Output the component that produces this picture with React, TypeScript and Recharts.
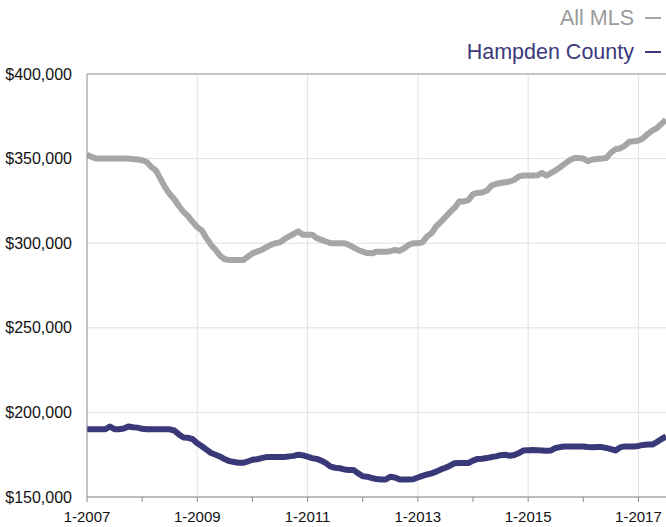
import React from "react";
import {
  LineChart,
  Line,
  XAxis,
  YAxis,
  CartesianGrid,
  ReferenceLine,
} from "recharts";

// Monthly median prices (dollars, thousands), starting January 2007
const allMls = [
  352.3, 351, 350, 350, 350, 350, 350, 350, 350, 350, 349.7, 349.5,
  349, 348, 345, 343, 338, 333, 329, 326, 322, 318.5, 316, 312.5,
  309.5, 307.5, 303, 299, 296, 292.5, 290.5, 290, 290, 290, 290, 292,
  294, 295, 296, 297.5, 299, 300, 300.5, 302.5, 304, 305.5, 307, 305,
  305, 305, 303, 302, 301, 300, 300, 300, 300, 299, 297.5, 296,
  295, 294.2, 294, 295, 295, 295, 295.3, 296, 295.5, 297, 299, 300,
  300, 300.5, 304, 306, 310, 312.5, 315.5, 318.5, 321, 324.7, 324.7, 325.5,
  329, 329.7, 330, 331, 334, 335, 335.6, 336, 336.5, 337.5, 339.5, 340,
  340, 340, 340.1, 341.5, 340, 341.5, 343, 345, 347, 349, 350.3, 350.3,
  350, 348.5, 349.5, 349.8, 350, 350.3, 353.5, 355.5, 356, 357.5, 360, 360.3,
  360.6, 362, 364.5, 366.5, 368, 370.5, 373,
];

const hampden = [
  190, 190, 190, 190, 190, 191.7, 190, 190, 190.5, 191.7, 191.2, 191,
  190.3, 190, 190, 190, 190, 190, 190, 189.3, 187, 185.2, 185, 184.2,
  181.8, 180, 178, 176, 175, 173.8, 172.3, 171.2, 170.7, 170.2, 170.2, 171,
  172, 172.3, 173, 173.6, 173.6, 173.6, 173.7, 173.7, 174, 174.3, 175, 174.6,
  173.8, 173, 172.5, 171.5, 170, 168, 167.3, 167, 166.3, 166, 166, 164,
  162.2, 162, 161.2, 160.6, 160.4, 160.3, 162, 161.5, 160.4, 160.4, 160.4, 160.5,
  161.5, 162.5, 163.3, 164, 165, 166.3, 167.3, 168.5, 170, 170.1, 170.1, 170.1,
  171.5, 172.5, 172.6, 173, 173.6, 174, 174.7, 175, 174.4, 174.8, 176, 177.5,
  177.7, 177.8, 177.7, 177.5, 177.3, 177.5, 179, 179.5, 179.9, 179.9, 179.9, 179.9,
  179.9, 179.5, 179.4, 179.5, 179.5, 179, 178.3, 177.5, 179.3, 179.9, 179.9, 179.9,
  180.2, 180.8, 181, 181, 182.5, 184.2, 185.8,
];

const xTickLabels = ["1-2007", "1-2009", "1-2011", "1-2013", "1-2015", "1-2017"];
const yTicks = [150000, 200000, 250000, 300000, 350000, 400000];
const seriesNames = ["All MLS", "Hampden County"];

const GRAY = "#a6a6a6";
const GRAY_TEXT = "#9a9a9a";
const PURPLE = "#393878";
const PURPLE_TEXT = "#3b3a7c";

const data = allMls.map((v, i) => ({
  m: i,
  all: v * 1000,
  hamp: hampden[i] * 1000,
}));

const yearTicks = Array.from({ length: 11 }, (_, i) => i * 12);
const majorTicks = xTickLabels.map((_, i) => i * 24);

const fmtMoney = (v: number) => "$" + v.toLocaleString("en-US");

const FONT = "'Liberation Sans', Arial, sans-serif";

const LegendBox = () => (
  <div
    style={{
      position: "absolute",
      top: 1,
      right: 5,
      fontFamily: FONT,
      fontSize: 21.5,
      textAlign: "right",
      lineHeight: "34px",
    }}
  >
    {[
      { name: seriesNames[0], color: GRAY_TEXT, line: GRAY },
      { name: seriesNames[1], color: PURPLE_TEXT, line: PURPLE },
    ].map((s) => (
      <div key={s.name} style={{ color: s.color, whiteSpace: "nowrap" }}>
        {s.name}
        <span
          style={{
            display: "inline-block",
            width: 16,
            height: 2,
            background: s.line,
            marginLeft: 11,
            verticalAlign: "middle",
            position: "relative",
            top: -1,
          }}
        />
      </div>
    ))}
  </div>
);

export default function App() {
  return (
    <div style={{ position: "absolute", left: 0, top: 0, width: 666, height: 527, background: "#fff" }}>
      <LineChart
        width={666}
        height={527}
        data={data}
        margin={{ top: 74, right: 0, bottom: 0, left: 7 }}
      >
        <CartesianGrid vertical={false} stroke="#e2e2e2" strokeWidth={1} />
        {majorTicks.slice(1).map((t) => (
          <ReferenceLine key={t} x={t} stroke="#e2e2e2" strokeWidth={1} />
        ))}
        <ReferenceLine y={400000} stroke="#999" strokeWidth={1} />
        <XAxis
          type="number"
          dataKey="m"
          domain={[0, 126]}
          ticks={yearTicks}
          interval={0}
          allowDataOverflow
          height={30}
          stroke="#888"
          tickSize={5}
          tickMargin={9}
          tick={{ fill: "#111", fontSize: 15, fontFamily: FONT }}
          tickFormatter={(v: number) => (v % 24 === 0 ? xTickLabels[v / 24] : "")}
        />
        <YAxis
          domain={[150000, 400000]}
          ticks={yTicks}
          interval={0}
          width={80}
          stroke="#888"
          tickLine={false}
          tickSize={0}
          tickMargin={15}
          tick={{ fill: "#111", fontSize: 16, fontFamily: FONT }}
          tickFormatter={fmtMoney}
        />
        <Line
          type="linear"
          dataKey="all"
          name={seriesNames[0]}
          stroke={GRAY}
          strokeWidth={6}
          dot={false}
          strokeLinejoin="round"
          isAnimationActive={false}
        />
        <Line
          type="linear"
          dataKey="hamp"
          name={seriesNames[1]}
          stroke={PURPLE}
          strokeWidth={6}
          dot={false}
          strokeLinejoin="round"
          isAnimationActive={false}
        />
      </LineChart>
      <LegendBox />
    </div>
  );
}
